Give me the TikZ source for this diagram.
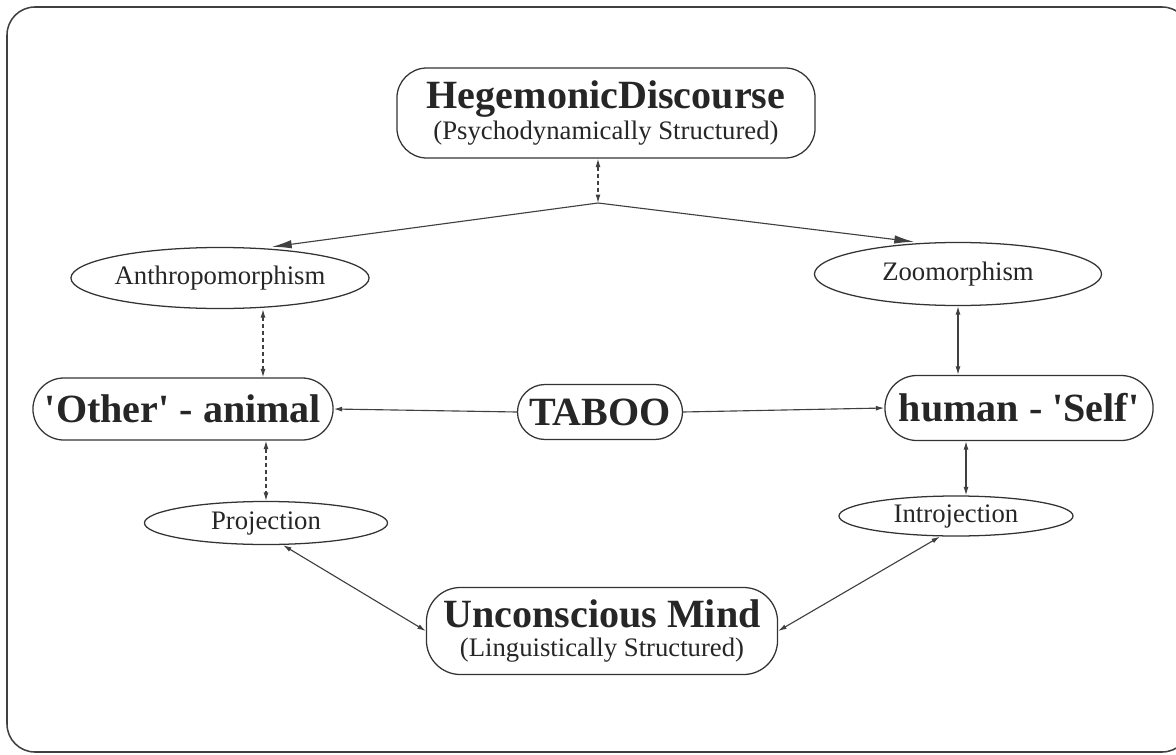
\documentclass[tikz,border=0pt]{standalone}
\usepackage{fontspec}
\setmainfont{Liberation Serif}
\usetikzlibrary{shapes.geometric,arrows.meta}
\newcommand{\headfont}{\fontsize{28.5}{30}\selectfont\bfseries}
\newcommand{\notefont}{\fontsize{19}{20}\selectfont}
\newcommand{\sq}{\textquotesingle}
\tikzset{
    round-box/.style = {draw=black!80, fill=white, line width=0.9pt, rectangle, rounded corners=#1, inner sep=0pt, align=center, text=black!85},
    oval-box/.style = {draw=black!80, fill=white, line width=0.9pt, ellipse, inner sep=0pt, font=\notefont, text=black!85},
    link/.style = {draw=black!75, line width=0.8pt},
    both-ways/.style = {link, {Latex[length=6pt,width=3.5pt]}-{Latex[length=6pt,width=3.5pt]}},
    dash-both-ways/.style = {both-ways, dash pattern=on 3pt off 2pt},
    branch/.style = {link, -{Latex[length=14pt,width=6pt]}},
    one-way/.style = {link, -{Latex[length=6pt,width=3.5pt]}},
}

\begin{document}
\begin{tikzpicture}[x=0.025cm, y=-0.025cm]
\useasboundingbox (0,0) rectangle (1176,755);
\begin{scope}
\clip (0,0) rectangle (1176,755);
\draw[draw=black!75, line width=1.1pt, rounded corners=0.7cm] (7,7) rectangle (1190,752);
\end{scope}

% boxes
\node[round-box=0.75cm, minimum width=10.45cm, minimum height=2.25cm, font=\notefont] (hege) at (606,113) {{\headfont HegemonicDiscourse}\\[2pt](Psychodynamically Structured)};
\node[oval-box, minimum width=7.25cm, minimum height=1.525cm] (anthro) at (220,278) {Anthropomorphism};
\node[oval-box, minimum width=7.175cm, minimum height=1.575cm] (zoo) at (958,274) {Zoomorphism};
\node[round-box=0.775cm, minimum width=7.5cm, minimum height=1.55cm, font=\headfont] (other) at (183,409) {\sq Other\sq{} - animal};
\node[round-box=0.69cm, minimum width=4.125cm, minimum height=1.375cm, font=\headfont] (taboo) at (600,412) {TABOO};
\node[round-box=0.8cm, minimum width=6.7cm, minimum height=1.625cm, font=\headfont] (human) at (1019,408) {human - \sq Self\sq};
\node[oval-box, minimum width=6.075cm, minimum height=1.075cm] (proj) at (266,523) {Projection};
\node[oval-box, minimum width=5.85cm, minimum height=1cm] (intro) at (956,516) {Introjection};
\node[round-box=0.85cm, minimum width=8.775cm, minimum height=2.175cm, font=\notefont] (unc) at (602,631) {{\headfont Unconscious Mind}\\(Linguistically Structured)};

% links
\coordinate (split) at (598,203);
\draw[dash-both-ways] (hege.south -| split) -- (split);
\draw[branch] (split) -- ([xshift=1.3cm]anthro.north);
\draw[branch] (split) -- ([xshift=-1.1cm]zoo.north);
\draw[dash-both-ways] ([xshift=1.075cm]anthro.south) -- ([xshift=1.075cm]anthro.south |- other.north);
\draw[dash-both-ways] (other.south -| proj.north) -- (proj.north);
\draw[both-ways] (zoo.south) -- (zoo.south |- human.north);
\draw[both-ways] ([xshift=0.25cm]intro.north |- human.south) -- ([xshift=0.25cm]intro.north);
\draw[one-way] (taboo.west) -- (other.east);
\draw[one-way] (taboo.east) -- (human.west);
\draw[both-ways] ([xshift=0.425cm]proj.south) -- (unc.west);
\draw[both-ways] ([xshift=-0.4cm]intro.south) -- (unc.east);
\end{tikzpicture}
\end{document}
